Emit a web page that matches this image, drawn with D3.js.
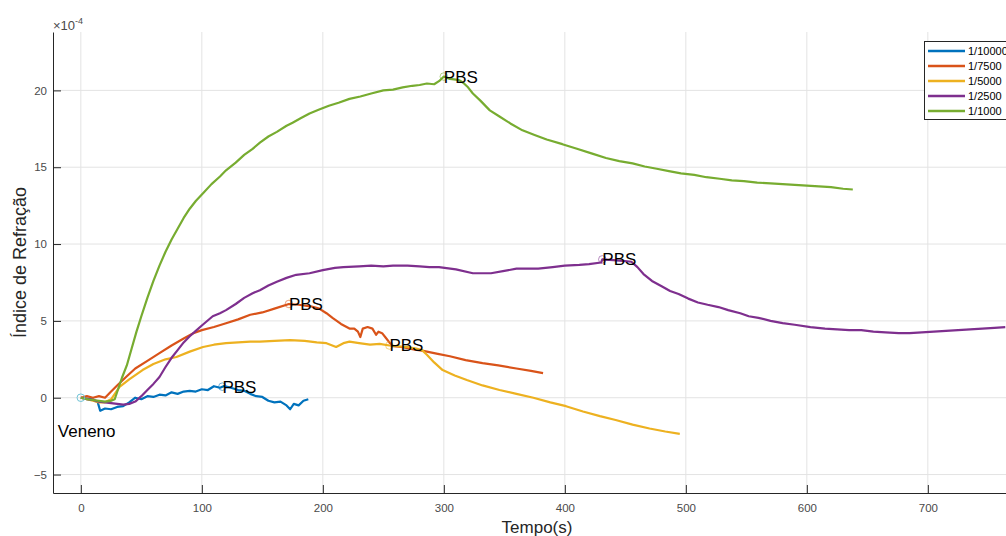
<!DOCTYPE html>
<html><head><meta charset="utf-8">
<script src="https://cdn.jsdelivr.net/npm/d3@7"></script>
<style>
body{margin:0;background:#fff}
svg{display:block}
text{font-family:"Liberation Sans",Arial,Helvetica,sans-serif}
</style>
</head><body>
<svg id="c" width="1006" height="536"></svg>
<script>
// ---------- data ----------
const seriesNames = ["1/10000", "1/7500", "1/5000", "1/2500", "1/1000"];
const seriesColors = ["#0072BD", "#D95319", "#EDB120", "#7E2F8E", "#77AC30"];
const xTicks = [0, 100, 200, 300, 400, 500, 600, 700];
const yTicks = [-5, 0, 5, 10, 15, 20];

const t10000 = [0,5,10,14,16,20,25,30,35,40,45,50,55,60,65,70,75,80,85,90,95,100,105,110,115,118,122,126,130,135,140,145,150,155,160,165,170,173,176,180,184,188];
const v10000 = [0,-0.05,-0.1,-0.3,-0.85,-0.7,-0.75,-0.6,-0.55,-0.3,0,-0.1,0.1,0.05,0.2,0.15,0.35,0.25,0.4,0.45,0.4,0.55,0.5,0.75,0.65,0.75,0.7,0.6,0.5,0.45,0.25,0.1,0.05,-0.2,-0.3,-0.25,-0.5,-0.75,-0.4,-0.5,-0.2,-0.1];

const t7500 = [0,5,10,15,20,25,30,38,45,55,65,75,85,93,100,110,120,130,140,150,160,172,180,190,197,203,208,215,222,226,229,231,233,237,241,244,246,249,252,255,258,265,275,283,295,305,318,332,345,360,372,382];
const v7500 = [0,0.1,0,0.1,0,0.4,0.8,1.4,1.9,2.4,2.9,3.4,3.85,4.2,4.4,4.6,4.85,5.1,5.4,5.55,5.8,6.1,6.05,5.95,5.8,5.5,5.2,4.8,4.5,4.5,4.3,3.95,4.5,4.6,4.5,4.1,4.3,4.2,3.9,3.6,3.35,3.3,3.15,3.05,2.85,2.7,2.45,2.25,2.1,1.9,1.75,1.6];

const t5000 = [0,5,10,15,20,25,32,40,51,60,70,79,90,101,110,120,130,140,148,160,173,185,195,203,211,217,222,230,239,247,255,262,270,277,282,286,292,299,309,319,332,346,360,374,388,401,415,429,442,456,470,483,495];
const v5000 = [0,-0.1,-0.2,-0.3,-0.3,-0.1,0.7,1.2,1.8,2.2,2.5,2.65,3.0,3.3,3.45,3.55,3.6,3.65,3.65,3.7,3.75,3.7,3.6,3.55,3.3,3.55,3.65,3.55,3.45,3.5,3.4,3.35,3.3,3.2,3.1,2.8,2.3,1.8,1.45,1.15,0.8,0.5,0.25,0,-0.3,-0.55,-0.9,-1.2,-1.45,-1.75,-2.0,-2.2,-2.35];

const t2500 = [0,5,10,15,20,25,30,35,40,45,50,55,60,65,70,75,80,85,90,95,100,109,115,120,128,135,142,148,155,162,170,178,189,200,210,217,230,240,250,258,270,280,288,296,310,324,339,350,360,370,378,390,400,412,420,430,431,440,448,455,460,465,472,480,487,494,502,510,518,527,535,545,552,560,570,580,590,603,615,625,635,645,655,665,676,685,695,705,715,725,735,745,755,764];
const v2500 = [0,-0.1,-0.15,-0.25,-0.3,-0.35,-0.4,-0.45,-0.4,-0.25,0.1,0.5,0.9,1.35,2.0,2.6,3.1,3.6,4.0,4.35,4.7,5.3,5.5,5.7,6.1,6.5,6.8,7.0,7.3,7.55,7.8,8.0,8.1,8.3,8.45,8.5,8.55,8.6,8.55,8.6,8.6,8.55,8.5,8.5,8.35,8.1,8.1,8.25,8.4,8.4,8.4,8.5,8.6,8.65,8.7,8.8,9.0,8.95,8.9,8.85,8.5,8.05,7.6,7.25,6.95,6.75,6.45,6.2,6.05,5.9,5.7,5.5,5.3,5.2,5.0,4.85,4.75,4.6,4.5,4.45,4.4,4.4,4.3,4.25,4.2,4.2,4.25,4.3,4.35,4.4,4.45,4.5,4.55,4.6];

const t1000 = [0,5,10,15,20,25,28,31,34,38,42,46,50,55,60,65,70,75,80,85,90,95,101,108,115,120,128,135,142,148,155,162,170,175,182,189,197,205,213,222,231,240,250,258,266,274,280,286,292,296,300,305,310,313,316,320,324,330,338,346,355,365,375,385,398,410,422,434,445,456,466,476,486,496,507,517,528,538,548,559,570,580,590,600,610,620,630,638];
const v1000 = [0,-0.1,-0.15,-0.2,-0.25,-0.2,-0.1,0.6,1.3,2.1,3.2,4.3,5.3,6.5,7.6,8.6,9.5,10.3,11.0,11.7,12.3,12.8,13.3,13.9,14.4,14.8,15.3,15.8,16.2,16.6,17.0,17.3,17.7,17.9,18.2,18.5,18.75,19.0,19.2,19.45,19.6,19.8,20.0,20.05,20.2,20.3,20.35,20.45,20.4,20.6,20.9,20.75,20.7,20.65,20.5,20.2,19.8,19.35,18.7,18.3,17.85,17.4,17.1,16.8,16.5,16.2,15.9,15.6,15.4,15.25,15.05,14.9,14.75,14.6,14.5,14.35,14.25,14.15,14.1,14.0,13.95,13.9,13.85,13.8,13.75,13.7,13.6,13.55];

const seriesT = [t10000, t7500, t5000, t2500, t1000];
const seriesV = [v10000, v7500, v5000, v2500, v1000];

const pbsT = [117, 172, 255, 431, 300];
const pbsV = [0.72, 6.1, 3.4, 9.0, 20.9];
const pbsLabel = "PBS";
const venenoT = 0, venenoV = 0;
const venenoLabelT = -19, venenoLabelV = -2.2;
const venenoLabel = "Veneno";

// ---------- layout ----------
const svg = d3.select("#c");
const L = 53, R = 1021, T = 32, B = 493;
const x = d3.scaleLinear().domain([-23, 777]).range([L, R]);
const y = d3.scaleLinear().domain([-6.2, 23.8]).range([B, T]);
const axisColor = "#262626";
const tickColor = "#4a4a4a";

// grid
const grid = svg.append("g");
grid.selectAll("line.gx").data(xTicks).join("line")
  .attr("x1", d => x(d)).attr("x2", d => x(d)).attr("y1", T).attr("y2", B)
  .attr("stroke", "#e3e3e3").attr("stroke-width", 1);
grid.selectAll("line.gy").data(yTicks).join("line")
  .attr("x1", L).attr("x2", R).attr("y1", d => y(d)).attr("y2", d => y(d))
  .attr("stroke", "#e3e3e3").attr("stroke-width", 1);

// series
const line = d3.line().x(d => x(d[0])).y(d => y(d[1]));
seriesT.forEach((ts, i) => {
  const pts = ts.map((t, j) => [t, seriesV[i][j]]);
  svg.append("path").datum(pts).attr("d", line)
    .attr("fill", "none").attr("stroke", seriesColors[i])
    .attr("stroke-width", 2.2).attr("stroke-linejoin", "round");
});

// markers
svg.append("circle").attr("cx", x(venenoT)).attr("cy", y(venenoV)).attr("r", 3.8)
  .attr("fill", "none").attr("stroke", "#6fc3d6").attr("stroke-width", 1);
pbsT.forEach((t, i) => {
  svg.append("circle").attr("cx", x(t)).attr("cy", y(pbsV[i])).attr("r", 3.8)
    .attr("fill", "none").attr("stroke", seriesColors[i]).attr("stroke-opacity", 0.55).attr("stroke-width", 1);
  svg.append("text").attr("x", x(t)).attr("y", y(pbsV[i])).attr("dy", "0.35em")
    .attr("font-size", 17).attr("fill", "#000").text(pbsLabel);
});
svg.append("text").attr("x", x(venenoLabelT)).attr("y", y(venenoLabelV)).attr("dy", "0.35em")
  .attr("font-size", 17).attr("fill", "#000").text(venenoLabel);

// axes
const xAxis = d3.axisBottom(x).tickValues(xTicks).tickSizeInner(-8).tickSizeOuter(0).tickPadding(11);
const gx = svg.append("g").attr("transform", `translate(0,${B})`).call(xAxis);
gx.select(".domain").attr("stroke", axisColor);
gx.selectAll(".tick line").attr("stroke", axisColor);
gx.selectAll(".tick text").attr("fill", tickColor).attr("font-size", 11.5)
  .attr("font-family", '"Liberation Sans",Arial,sans-serif');

const yAxis = d3.axisLeft(y).tickValues(yTicks).tickSizeInner(-8).tickSizeOuter(0).tickPadding(6);
const gy = svg.append("g").attr("transform", `translate(${L},0)`).call(yAxis);
gy.select(".domain").attr("stroke", axisColor);
gy.selectAll(".tick line").attr("stroke", axisColor);
gy.selectAll(".tick text").attr("fill", tickColor).attr("font-size", 11.5)
  .attr("font-family", '"Liberation Sans",Arial,sans-serif');

// exponent
const ex = svg.append("text").attr("x", L).attr("y", 30).attr("fill", tickColor).attr("font-size", 13);
ex.append("tspan").text("\u00d710");
ex.append("tspan").attr("dy", -6).attr("font-size", 9).text("-4");

// axis labels
svg.append("text").attr("x", (L + R) / 2).attr("y", 533).attr("text-anchor", "middle")
  .attr("font-size", 17).attr("fill", axisColor).text("Tempo(s)");
svg.append("text").attr("transform", `translate(26,${(T + B) / 2}) rotate(-90)`)
  .attr("text-anchor", "middle").attr("font-size", 18).attr("fill", axisColor).text("Índice de Refração");

// legend
const lg = svg.append("g");
lg.append("rect").attr("x", 924.5).attr("y", 41.5).attr("width", 110).attr("height", 78)
  .attr("fill", "#fff").attr("stroke", axisColor).attr("stroke-width", 1);
const ly = d3.scalePoint().domain(seriesNames).range([51, 111]);
seriesNames.forEach((n, i) => {
  lg.append("line").attr("x1", 928).attr("x2", 965).attr("y1", ly(n)).attr("y2", ly(n))
    .attr("stroke", seriesColors[i]).attr("stroke-width", 2.5);
  lg.append("text").attr("x", 968).attr("y", ly(n)).attr("dy", "0.35em")
    .attr("font-size", 11).attr("fill", "#000").text(n);
});
</script>
</body></html>
